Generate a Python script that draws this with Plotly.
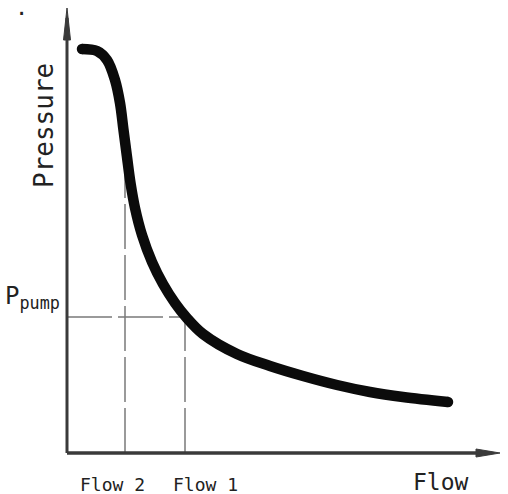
import plotly.graph_objects as go

# Pump curve (arbitrary units)
flow = [15, 30, 40, 48, 53, 56.5, 60, 63.5, 68, 75, 85, 96, 108, 119, 136, 170, 203, 236, 270, 303, 336, 381]
pressure = [404, 402, 393, 373, 350, 323, 296, 270, 245, 218, 191, 169, 150, 136, 119, 99, 87, 77, 68, 61, 56, 51]

flow_1 = 118
flow_2 = 58
p_pump = 136

x_label = "Flow"
y_label = "Pressure"
flow_labels = ["Flow 2", "Flow 1"]
flow_label_pos = [45, 138]

X_MAX = 433
Y_MAX = 445
AX_COLOR = "#3a3a3a"
FONT = "DejaVu Sans Mono"

def interp(x, xs, ys):
    for i in range(len(xs) - 1):
        if xs[i] <= x <= xs[i + 1]:
            t = (x - xs[i]) / (xs[i + 1] - xs[i])
            return ys[i] + t * (ys[i + 1] - ys[i])
    return ys[-1]

fig = go.Figure()

dash_line = dict(color="#7a7a7a", width=1.5, dash="45px,6px")
p2 = interp(flow_2, flow, pressure)
fig.add_trace(go.Scatter(x=[flow_2, flow_2], y=[0, p2], mode="lines", line=dash_line,
                         hoverinfo="skip", showlegend=False))
fig.add_trace(go.Scatter(x=[flow_1, flow_1], y=[0, p_pump], mode="lines", line=dash_line,
                         hoverinfo="skip", showlegend=False))
fig.add_trace(go.Scatter(x=[0, flow_1], y=[p_pump, p_pump], mode="lines", line=dash_line,
                         hoverinfo="skip", showlegend=False))

# axes lines
fig.add_trace(go.Scatter(x=[0, X_MAX - 10], y=[0, 0], mode="lines",
                         line=dict(color=AX_COLOR, width=3.5), hoverinfo="skip", showlegend=False))
fig.add_trace(go.Scatter(x=[0, 0], y=[0, Y_MAX - 10], mode="lines",
                         line=dict(color=AX_COLOR, width=3), hoverinfo="skip", showlegend=False))
# arrowheads
fig.add_trace(go.Scatter(x=[X_MAX - 24, X_MAX, X_MAX - 24, X_MAX - 24], y=[4, 0, -4, 4],
                         mode="lines", fill="toself", fillcolor=AX_COLOR,
                         line=dict(color=AX_COLOR, width=1), hoverinfo="skip", showlegend=False))
fig.add_trace(go.Scatter(x=[-3.5, 0, 3.5, -3.5], y=[Y_MAX - 32, Y_MAX, Y_MAX - 32, Y_MAX - 32],
                         mode="lines", fill="toself", fillcolor=AX_COLOR,
                         line=dict(color=AX_COLOR, width=1), hoverinfo="skip", showlegend=False))

# pump curve
fig.add_trace(go.Scatter(x=flow, y=pressure, mode="lines",
                         line=dict(color="#0b0b0b", width=10.5, shape="spline", smoothing=1),
                         hoverinfo="skip", showlegend=False))
fig.add_trace(go.Scatter(x=[flow[0], flow[-1]], y=[pressure[0], pressure[-1]], mode="markers",
                         marker=dict(color="#0b0b0b", size=10.5), hoverinfo="skip", showlegend=False))

anns = []
for lab, xp in zip(flow_labels, flow_label_pos):
    anns.append(dict(x=xp, y=0, xref="x", yref="y", text=lab, showarrow=False,
                     yanchor="middle", yshift=-31, font=dict(family=FONT, size=18, color="#222")))
anns.append(dict(x=374, y=0, xref="x", yref="y", text=x_label, showarrow=False,
                 yanchor="middle", yshift=-29, font=dict(family=FONT, size=23, color="#222")))
anns.append(dict(x=-8, y=327, xref="x", yref="y", text=y_label, showarrow=False, textangle=-90,
                 xshift=-15, font=dict(family=FONT, size=26, color="#222")))
anns.append(dict(x=-5, y=p_pump, xref="x", yref="y", text="P<sub>pump</sub>", showarrow=False,
                 xanchor="right", yanchor="bottom", yshift=2,
                 font=dict(family=FONT, size=24, color="#222")))
anns.append(dict(x=-8, y=440, xref="x", yref="y", text="·", showarrow=False, xshift=-38,
                 xanchor="center", yanchor="middle", font=dict(family=FONT, size=22, color="#222")))

fig.update_layout(
    width=508, height=494,
    margin=dict(l=57, r=0, t=0, b=31),
    paper_bgcolor="white", plot_bgcolor="white",
    xaxis=dict(range=[-10, 441], visible=False, fixedrange=True),
    yaxis=dict(range=[-10, 453], visible=False, fixedrange=True),
    annotations=anns,
)

fig.write_html("out.html", config={"displayModeBar": False},
               post_script="document.body.style.margin='0';document.body.style.overflow='hidden';")
